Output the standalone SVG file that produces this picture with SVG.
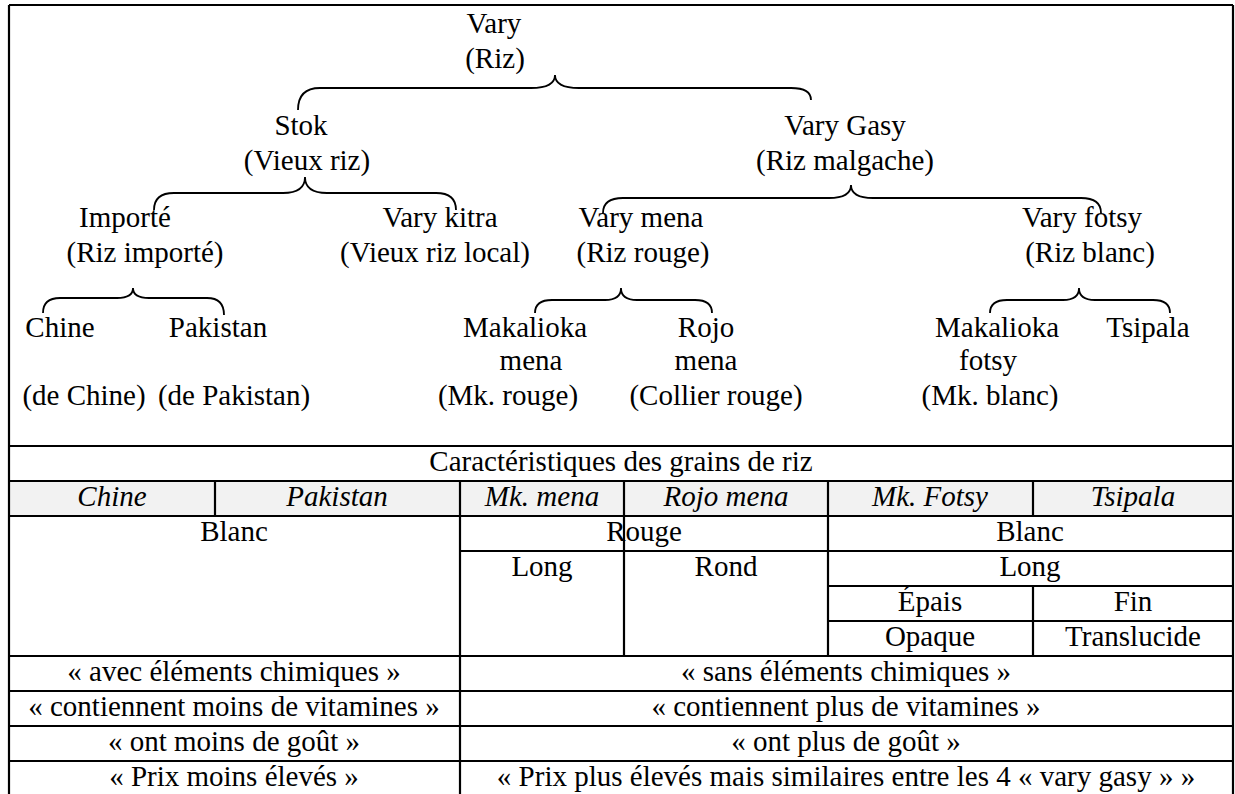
<svg xmlns="http://www.w3.org/2000/svg" width="1235" height="794" viewBox="0 0 1235 794">
<style>
text{font-family:"Liberation Serif","Times New Roman",serif;font-size:29px;fill:#000;text-anchor:middle}
.it{font-style:italic}
.brace{fill:none;stroke:#000;stroke-width:1.8}
.ln{stroke:#000;stroke-width:2.2;fill:none}
</style>
<rect x="0" y="0" width="1235" height="794" fill="#fff"/>

<!-- tree nodes -->
<g id="n-vary"><text x="494" y="33">Vary</text><text x="495" y="68">(Riz)</text></g>
<g id="n-stok"><text x="301" y="135">Stok</text><text x="307" y="170">(Vieux riz)</text></g>
<g id="n-vary-gasy"><text x="845" y="135">Vary Gasy</text><text x="845" y="170">(Riz malgache)</text></g>
<g id="n-importe"><text x="125" y="227">Importé</text><text x="145" y="262">(Riz importé)</text></g>
<g id="n-vary-kitra"><text x="440" y="227">Vary kitra</text><text x="435" y="262">(Vieux riz local)</text></g>
<g id="n-vary-mena"><text x="641" y="227">Vary mena</text><text x="643" y="262">(Riz rouge)</text></g>
<g id="n-vary-fotsy"><text x="1082" y="227">Vary fotsy</text><text x="1090" y="262">(Riz blanc)</text></g>
<g id="n-chine"><text x="60" y="337">Chine</text><text x="84" y="405">(de Chine)</text></g>
<g id="n-pakistan"><text x="218" y="337">Pakistan</text><text x="234" y="405">(de Pakistan)</text></g>
<g id="n-mk-mena"><text x="525" y="337">Makalioka</text><text x="531" y="370">mena</text><text x="508" y="405">(Mk. rouge)</text></g>
<g id="n-rojo-mena"><text x="706" y="337">Rojo</text><text x="706" y="370">mena</text><text x="716" y="405">(Collier rouge)</text></g>
<g id="n-mk-fotsy"><text x="997" y="337">Makalioka</text><text x="988" y="370">fotsy</text><text x="990" y="405">(Mk. blanc)</text></g>
<g id="n-tsipala"><text x="1148" y="337">Tsipala</text></g>

<!-- connectors (braces) -->
<g id="connectors">
<path class="brace" d="M298 110 Q298 88 320 88 L531 88 Q555 88 555 75 Q555 88 579 88 L791 88 Q811 88 811 100"/>
<path class="brace" d="M154 210 Q154 193 174 193 L283 193 Q305 193 305 177 Q305 193 327 193 L436 193 Q456 193 456 210"/>
<path class="brace" d="M603 213 Q603 198 623 198 L829 198 Q851 198 851 185 Q851 198 873 198 L1081 198 Q1101 198 1101 213"/>
<path class="brace" d="M43 313 Q43 298 60 298 L117 298 Q133 298 133 288 Q133 298 149 298 L207 298 Q224 298 224 315"/>
<path class="brace" d="M535 313 Q535 300 552 300 L605 300 Q621 300 621 288 Q621 300 637 300 L695 300 Q712 300 712 313"/>
<path class="brace" d="M990 313 Q990 300 1007 300 L1063 300 Q1079 300 1079 288 Q1079 300 1095 300 L1153 300 Q1170 300 1170 313"/>
</g>

<!-- table -->
<g id="table">
<rect x="9" y="481" width="1224" height="35" fill="#f2f2f2"/>
<path class="ln" d="M9 5 H1233 M9 446 H1233 M9 481 H1233 M9 516 H1233 M460 551 H1233 M828 586 H1233 M828 621 H1233 M9 656 H1233 M9 691 H1233 M9 726 H1233 M9 761 H1233"/>
<path class="ln" d="M9 5 V794 M1233 5 V794 M215 481 V516 M460 481 V794 M624 481 V656 M828 481 V656 M1033 481 V516 M1033 586 V656"/>
<text x="621" y="471">Caractéristiques des grains de riz</text>
<text class="it" x="112" y="506">Chine</text>
<text class="it" x="337" y="506">Pakistan</text>
<text class="it" x="542" y="506">Mk. mena</text>
<text class="it" x="726" y="506">Rojo mena</text>
<text class="it" x="930" y="506">Mk. Fotsy</text>
<text class="it" x="1133" y="506">Tsipala</text>
<text x="234" y="541">Blanc</text>
<text x="644" y="541">Rouge</text>
<text x="1030" y="541">Blanc</text>
<text x="542" y="576">Long</text>
<text x="726" y="576">Rond</text>
<text x="1030" y="576">Long</text>
<text x="930" y="611">Épais</text>
<text x="1133" y="611">Fin</text>
<text x="930" y="646">Opaque</text>
<text x="1133" y="646">Translucide</text>
<text x="234" y="681">« avec éléments chimiques »</text>
<text x="846" y="681">« sans éléments chimiques »</text>
<text x="234" y="716">« contiennent moins de vitamines »</text>
<text x="846" y="716">« contiennent plus de vitamines »</text>
<text x="234" y="751">« ont moins de goût »</text>
<text x="846" y="751">« ont plus de goût »</text>
<text x="234" y="786">« Prix moins élevés »</text>
<text x="846" y="786">« Prix plus élevés mais similaires entre les 4 « vary gasy » »</text>
</g>
</svg>
